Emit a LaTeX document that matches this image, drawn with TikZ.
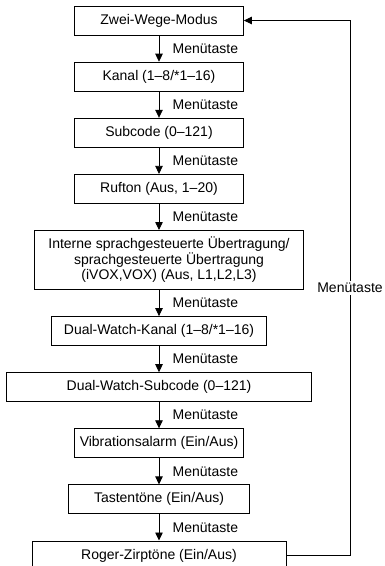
\documentclass[tikz,border=0pt]{standalone}
\usepackage{fontspec}
\setmainfont{Liberation Sans}
\usepackage{tikz}
\usetikzlibrary{arrows.meta,positioning}

\begin{document}
\begin{tikzpicture}[x=1pt, y=-1pt, node distance=26.3pt,
    every node/.style={font=\fontsize{14}{15.5}\selectfont, align=center},
    menubox/.style={draw, line width=0.8pt, minimum height=29pt, inner sep=2pt},
    arr/.style={line width=0.8pt, -{Triangle[length=8pt, width=7.5pt]}},
    lbl/.style={midway, right=10pt, inner sep=3.3pt}]
    \useasboundingbox (0,0) rectangle (385,566);

    \node[menubox, minimum width=169pt] (zwei) at (159,20.5) {Zwei-Wege-Modus};
    \node[menubox, minimum width=169pt, below=of zwei] (kanal) {Kanal (1–8/*1–16)};
    \node[menubox, minimum width=169pt, below=of kanal] (subcode) {Subcode (0–121)};
    \node[menubox, minimum width=169pt, below=of subcode] (rufton) {Rufton (Aus, 1–20)};
    \node[menubox, minimum width=269pt, minimum height=59pt, below=of rufton, xshift=10pt] (vox) {Interne sprachgesteuerte Übertragung/\\sprachgesteuerte Übertragung\\(iVOX,VOX) (Aus, L1,L2,L3)};
    \node[menubox, minimum width=215pt, below=of vox.south -| rufton.south] (dwkanal) {Dual-Watch-Kanal (1–8/*1–16)};
    \node[menubox, minimum width=305pt, below=of dwkanal] (dwsub) {Dual-Watch-Subcode (0–121)};
    \node[menubox, minimum width=169pt, below=of dwsub] (vibra) {Vibrationsalarm (Ein/Aus)};
    \node[menubox, minimum width=181pt, below=of vibra] (tasten) {Tastentöne (Ein/Aus)};
    \node[menubox, minimum width=254pt, below=of tasten] (roger) {Roger-Zirptöne (Ein/Aus)};
    \coordinate (back) at (350,0);

    \draw[arr] (zwei) -- node[lbl] {Menütaste} (kanal);
    \draw[arr] (kanal) -- node[lbl] {Menütaste} (subcode);
    \draw[arr] (subcode) -- node[lbl] {Menütaste} (rufton);
    \draw[arr] (rufton) -- node[lbl] {Menütaste} (rufton |- vox.north);
    \draw[arr] (vox.south -| rufton) -- node[lbl] {Menütaste} (dwkanal);
    \draw[arr] (dwkanal) -- node[lbl] {Menütaste} (dwsub);
    \draw[arr] (dwsub) -- node[lbl] {Menütaste} (vibra);
    \draw[arr] (vibra) -- node[lbl] {Menütaste} (tasten);
    \draw[arr] (tasten) -- node[lbl] {Menütaste} (roger);
    % back to the start
    \draw[arr] (roger.east) -- (roger.east -| back) -- node[fill=white, inner sep=2pt] {Menütaste} (zwei.east -| back) -- (zwei.east);
\end{tikzpicture}
\end{document}
